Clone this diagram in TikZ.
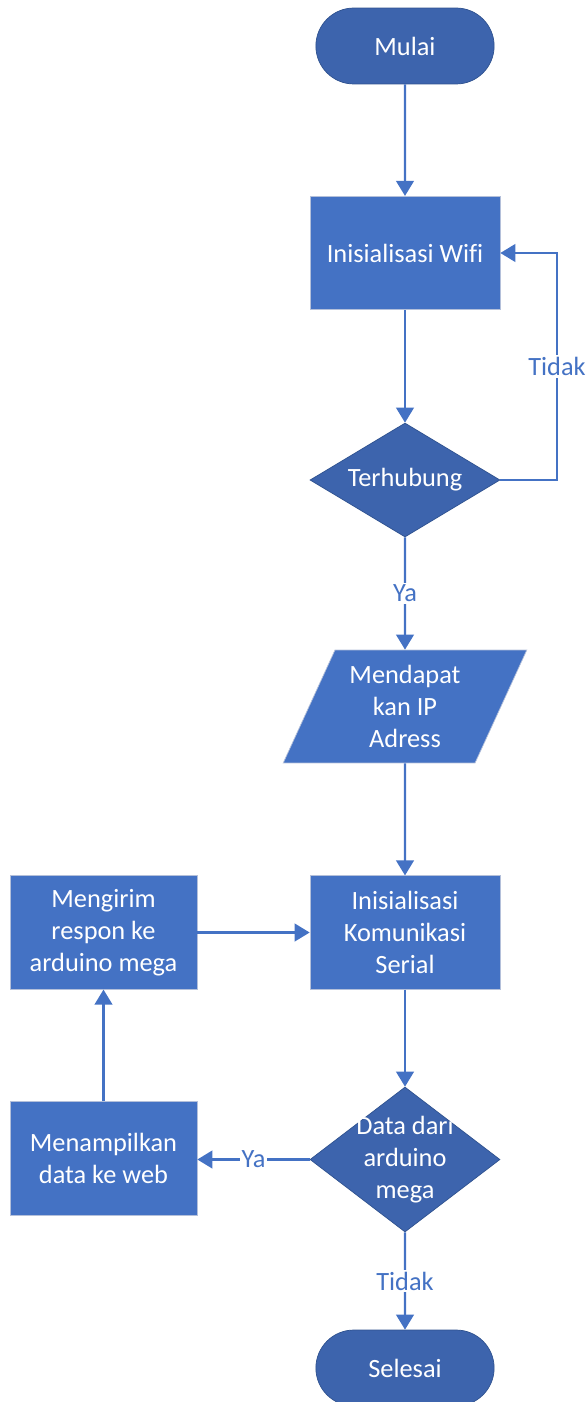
\documentclass[tikz,border=0pt]{standalone}
\usepackage{fontspec}
\setmainfont{Carlito}[Ligatures=NoCommon]
\usetikzlibrary{arrows.meta, shapes.geometric, shapes.misc}

\definecolor{biru}{HTML}{4472C4}
\definecolor{birutua}{HTML}{3D64AD}
\definecolor{garis}{HTML}{2F528F}
\definecolor{tepi}{HTML}{B4C0DA}
\newcommand{\teks}{\fontsize{15}{18.2}\selectfont}

\tikzset{
  terminal/.style={rounded rectangle, fill=birutua, draw=garis, minimum width=3.8cm, minimum height=1.52cm, text=white, font=\teks},
  proses/.style={rectangle, fill=biru, draw=tepi, minimum width=3.8cm, minimum height=2.27cm, text=white, align=center, font=\teks},
  keputusan/.style={diamond, fill=birutua, draw=garis, inner sep=0pt, minimum width=3.8cm, minimum height=2.28cm},
  masukan/.style={trapezium, trapezium left angle=64, trapezium right angle=116, trapezium stretches=true, fill=biru, draw=tepi, inner sep=2pt, minimum width=4.88cm, minimum height=2.26cm, text=white, align=center, font=\teks},
  isi/.style={text=white, align=center, font=\teks},
  panah/.style={draw=biru, line width=1.2pt, -{Triangle[length=8.5pt, width=10pt]}},
  ket/.style={fill=white, text=biru, font=\teks, inner sep=1pt}
}

\begin{document}
\begin{tikzpicture}[x=0.02cm, y=-0.02cm]
    \useasboundingbox (0,0) rectangle (587,1402);

    % Main column
    \node[terminal] (mulai) at (405,46) {Mulai};
    \node[proses] (wifi) at (405,253) {Inisialisasi Wifi};
    \node[keputusan, label={[isi]center:Terhubung}] (hubung) at (405,480) {};
    \node[masukan] (ip) at (405,706.5) {Mendapat\\kan IP\\Adress};
    \node[proses] (serial) at (405,932.5) {Inisialisasi\\Komunikasi\\Serial};
    \node[keputusan, minimum height=2.9cm, label={[isi]center:Data dari\\arduino\\mega}] (data) at (405,1159.5) {};
    \node[terminal] (selesai) at (405,1368) {Selesai};

    % Left column
    \node[proses, minimum width=3.74cm] (web) at (103.5,1158.5) {Menampilkan\\data ke web};
    \node[proses, minimum width=3.74cm] (kirim) at (103.5,932.5) {Mengirim\\respon ke\\arduino mega};

    % Loop back to wifi
    \coordinate (belok) at (557,253);

    % Connectors
    \draw[panah] (mulai) -- (wifi);
    \draw[panah] (wifi) -- (hubung);
    \draw[panah] (hubung.east) -| node[pos=0.75, ket] {Tidak} (belok) -- (wifi.east);
    \draw[panah] (hubung) -- node[ket] {Ya} (ip);
    \draw[panah] (ip) -- (serial);
    \draw[panah] (serial) -- (data);
    \draw[panah] (data.west) -- node[ket] {Ya} (data.west -| web.east);
    \draw[panah] (web) -- (kirim);
    \draw[panah] (kirim) -- (serial);
    \draw[panah] (data) -- node[ket] {Tidak} (selesai);
\end{tikzpicture}
\end{document}
